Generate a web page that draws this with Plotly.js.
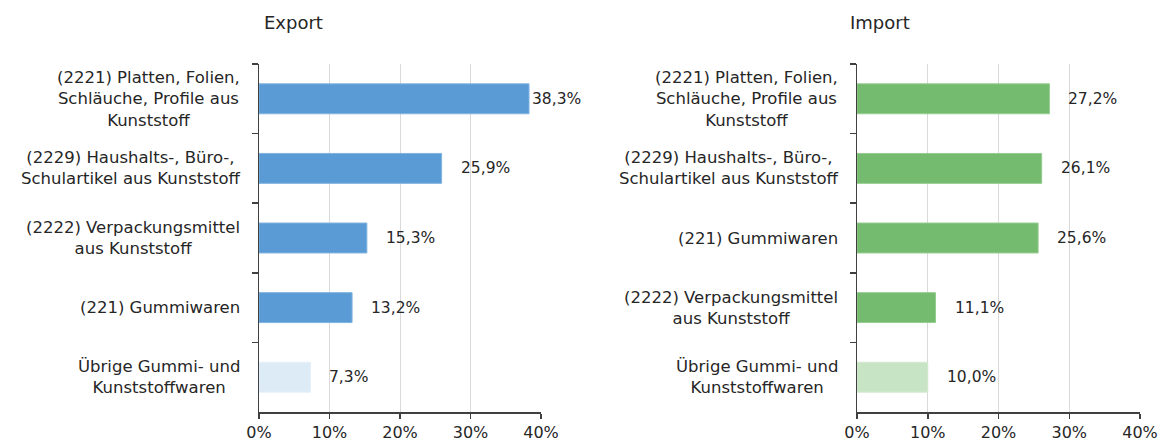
<!DOCTYPE html>
<html><head><meta charset="utf-8">
<script src="https://cdn.plot.ly/plotly-3.0.1.min.js"></script>
<style>html,body{margin:0;padding:0;background:#fff}#chart{width:1162px;height:443px}</style>
</head><body><div id="chart"></div>
<script>
const exportCategories = [
  "(2221) Platten, Folien,<br>Schläuche, Profile aus<br>Kunststoff",
  "(2229) Haushalts-, Büro-,<br>Schulartikel aus Kunststoff",
  "(2222) Verpackungsmittel<br>aus Kunststoff",
  "(221) Gummiwaren",
  "Übrige Gummi- und<br>Kunststoffwaren"
];
const exportValues = [38.3, 25.9, 15.3, 13.2, 7.3];
const importCategories = [
  "(2221) Platten, Folien,<br>Schläuche, Profile aus<br>Kunststoff",
  "(2229) Haushalts-, Büro-,<br>Schulartikel aus Kunststoff",
  "(221) Gummiwaren",
  "(2222) Verpackungsmittel<br>aus Kunststoff",
  "Übrige Gummi- und<br>Kunststoffwaren"
];
const importValues = [27.2, 26.1, 25.6, 11.1, 10.0];
const panelTitles = ["Export", "Import"];
const xTickValues = [0, 10, 20, 30, 40];
const xTickLabels = ["0%", "10%", "20%", "30%", "40%"];

const FONT = "DejaVu Sans, sans-serif";
const TXT = "#262626";
const blue = "#5b9bd5", blueLight = "#ddebf7";
const green = "#75bb6f", greenLight = "#c7e4c4";

function fmt(v){ return v.toFixed(1).replace('.', ',') + '%'; }
const ids = exportCategories.map((_, i) => 'c' + i);

const traces = [
  {type:'bar', orientation:'h', x: exportValues, y: ids, xaxis:'x', yaxis:'y',
   width:0.43, hoverinfo:'skip',
   marker:{color: exportValues.map((v,i)=> i===exportValues.length-1 ? blueLight : blue),
           line:{color: exportValues.map((v,i)=> i===exportValues.length-1 ? '#e6f0fa' : '#7fb3e0'), width:1}}},
  {type:'bar', orientation:'h', x: importValues, y: ids, xaxis:'x2', yaxis:'y2',
   width:0.43, hoverinfo:'skip',
   marker:{color: importValues.map((v,i)=> i===importValues.length-1 ? greenLight : green),
           line:{color: importValues.map((v,i)=> i===importValues.length-1 ? '#d3ead0' : '#95cc8f'), width:1}}}
];

const xaxisBase = {
  range:[0,40], tickvals: xTickValues, ticktext: xTickLabels,
  showgrid:true, gridcolor:'#d9d9d9', gridwidth:1, zeroline:false,
  showline:true, linecolor:'#404040', linewidth:1.5,
  ticks:'outside', ticklen:5, tickcolor:'#404040', tickwidth:1.5,
  tickfont:{family:FONT, size:16, color:TXT}, fixedrange:true
};
const yaxisBase = {
  type:'category', categoryorder:'array', categoryarray: ids,
  autorange:'reversed', showticklabels:false,
  showline:true, linecolor:'#404040', linewidth:1.5,
  ticks:'outside', tickson:'boundaries', ticklen:6, tickcolor:'#404040', tickwidth:1.5,
  showgrid:false, zeroline:false, fixedrange:true
};

const annotations = [];
[[exportCategories, exportValues, 'x', 'y'], [importCategories, importValues, 'x2', 'y2']].forEach(([cats, vals, xa, ya]) => {
  cats.forEach((c, i) => {
    annotations.push({xref: xa + ' domain', yref: ya, x: 0, y: ids[i], text: c,
      xanchor:'right', yanchor:'middle', align:'center', xshift:-17, showarrow:false,
      font:{family:FONT, size:16.5, color:TXT}});
  });
  vals.forEach((v, i) => {
    annotations.push({xref: xa, yref: ya, x: v, y: ids[i], text: fmt(v),
      xanchor:'left', yanchor:'middle', xshift: v > 35 ? 1 : 17, showarrow:false,
      font:{family:FONT, size:15.5, color:TXT}});
  });
});
annotations.push({xref:'paper', yref:'paper', x:293/1162, y:1, yshift:42, text: panelTitles[0],
  xanchor:'center', yanchor:'middle', showarrow:false, font:{family:FONT, size:18, color:TXT}});
annotations.push({xref:'paper', yref:'paper', x:880/1162, y:1, yshift:42, text: panelTitles[1],
  xanchor:'center', yanchor:'middle', showarrow:false, font:{family:FONT, size:18, color:TXT}});

const layout = {
  width:1162, height:443, margin:{l:0, r:0, t:64, b:31},
  paper_bgcolor:'#fff', plot_bgcolor:'#fff', showlegend:false,
  xaxis: Object.assign({}, xaxisBase, {domain:[259/1162, 541/1162], anchor:'y'}),
  yaxis: Object.assign({}, yaxisBase, {domain:[0,1], anchor:'x'}),
  xaxis2: Object.assign({}, xaxisBase, {domain:[857/1162, 1140/1162], anchor:'y2'}),
  yaxis2: Object.assign({}, yaxisBase, {domain:[0,1], anchor:'x2'}),
  annotations: annotations
};
Plotly.newPlot('chart', traces, layout, {displayModeBar:false, staticPlot:true});
</script></body></html>
